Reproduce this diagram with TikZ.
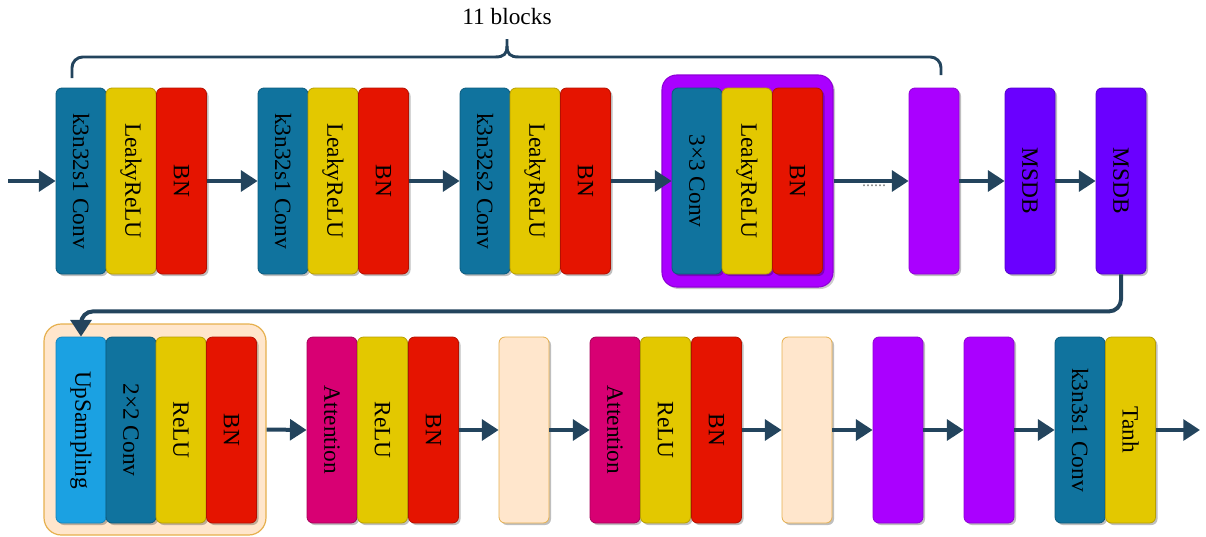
\documentclass[tikz,border=0pt]{standalone}
\usepackage{fontspec}
\setmainfont{Liberation Serif}
\usetikzlibrary{arrows.meta,shadows,calc}
\definecolor{cblue}{HTML}{10739E}
\definecolor{cblueD}{HTML}{0B5A7D}
\definecolor{cyel}{HTML}{E3C800}
\definecolor{cyelD}{HTML}{B89F00}
\definecolor{cred}{HTML}{E51400}
\definecolor{credD}{HTML}{B51000}
\definecolor{cpur}{HTML}{AA00FF}
\definecolor{cpurD}{HTML}{8F00D6}
\definecolor{cviol}{HTML}{6A00FF}
\definecolor{cviolD}{HTML}{5500CC}
\definecolor{cmag}{HTML}{D80073}
\definecolor{cmagD}{HTML}{A50058}
\definecolor{clb}{HTML}{1BA1E2}
\definecolor{clbD}{HTML}{1585BB}
\definecolor{cpeach}{HTML}{FFE6CC}
\definecolor{corange}{HTML}{E6B04E}
\definecolor{carr}{HTML}{23445D}
\tikzset{
  blk/.style={draw, line width=0.6pt, rounded corners=4.5pt, minimum width=37.5pt,
    minimum height=139.5pt, inner sep=0pt, font=\fontsize{17.5}{20}\selectfont,
    drop shadow={shadow xshift=1.5pt, shadow yshift=-1.5pt, opacity=0.25, fill=black}},
  bxblue/.style={blk, fill=cblue, draw=cblueD},
  bxyel/.style={blk, fill=cyel, draw=cyelD},
  bxred/.style={blk, fill=cred, draw=credD},
  bxpur/.style={blk, fill=cpur, draw=cpurD},
  bxviol/.style={blk, fill=cviol, draw=cviolD},
  bxmag/.style={blk, fill=cmag, draw=cmagD},
  bxlb/.style={blk, fill=clb, draw=clbD},
  bxpeach/.style={blk, fill=cpeach, draw=corange},
  arr/.style={draw=carr, line width=3pt, -{Triangle[length=12.5pt,width=15.5pt]}},
  bracket/.style={draw=carr, line width=2.2pt},
  contpur/.style={draw=cpurD, fill=cpur, line width=0.8pt, rounded corners=11pt,
    minimum width=128.25pt, minimum height=159pt, inner sep=0pt,
    drop shadow={shadow xshift=1.5pt, shadow yshift=-1.5pt, opacity=0.2, fill=black}},
  contor/.style={draw=corange, fill=cpeach, line width=0.9pt, rounded corners=13pt,
    minimum width=166.5pt, minimum height=158.25pt, inner sep=0pt},
}
\newcommand{\rt}[1]{\rotatebox{-90}{#1}}
\begin{document}
\begin{tikzpicture}[x=0.75pt,y=-0.75pt]
\useasboundingbox (0,0) rectangle (1206,536);

% title and bracket
\node[font=\fontsize{17.5}{20}\selectfont] (title) at (507,17) {11 blocks};
\coordinate (bL) at (72,78);
\coordinate (bR) at (941,75);
\coordinate (bTop) at (507,39);
\draw[bracket, rounded corners=8pt] (bL) |- (495,57);
\draw[bracket, rounded corners=8pt] (bR) |- (519,57);
\draw[bracket] (495,57) .. controls (504,57) and (507,54) .. (507,46) -- (bTop);
\draw[bracket] (519,57) .. controls (510,57) and (507,54) .. (507,46);

% row 1
\coordinate (in) at (8,181);
\node[bxblue] (b1) at (81,181) {\rt{k3n32s1 Conv}};
\node[bxyel]  (y1) at (131,181) {\rt{LeakyReLU}};
\node[bxred]  (r1) at (181.5,181) {\rt{BN}};

\node[bxblue] (b2) at (283,181) {\rt{k3n32s1 Conv}};
\node[bxyel]  (y2) at (333,181) {\rt{LeakyReLU}};
\node[bxred]  (r2) at (383.5,181) {\rt{BN}};

\node[bxblue] (b3) at (485,181) {\rt{k3n32s2 Conv}};
\node[bxyel]  (y3) at (535,181) {\rt{LeakyReLU}};
\node[bxred]  (r3) at (585.5,181) {\rt{BN}};

\node[contpur] (c1) at (747.5,181) {};
\node[bxblue] (b4) at (697,181) {\rt{3×3 Conv}};
\node[bxyel]  (y4) at (747,181) {\rt{LeakyReLU}};
\node[bxred]  (r4) at (797.5,181) {\rt{BN}};

\node[bxpur]  (p1) at (934,181) {};
\node[bxviol] (m1) at (1030,181) {\rt{MSDB}};
\node[bxviol] (m2) at (1121,181) {\rt{MSDB}};

\draw[arr] (in) -- (b1.west);
\draw[arr] (r1.east) -- (b2.west);
\draw[arr] (r2.east) -- (b3.west);
\draw[arr] (r3.east) -- (b4.west);
\draw[arr] (c1.east) -- (p1.west);
\node[text=gray, font=\fontsize{12}{14}\selectfont, inner sep=0pt] (dots) at (874,186) {......};
\draw[arr] (p1.east) -- (m1.west);
\draw[arr] (m1.east) -- (m2.west);

% row 2
\node[contor] (c2) at (155,429.5) {};
\node[bxlb]   (u1) at (81,430) {\rt{UpSampling}};
\node[bxblue] (v1) at (131,430) {\rt{2×2 Conv}};
\node[bxyel]  (e1) at (181,430) {\rt{ReLU}};
\node[bxred]  (n1) at (231.5,430) {\rt{BN}};

\node[bxmag]  (a1) at (332,430) {\rt{Attention}};
\node[bxyel]  (e2) at (382.5,430) {\rt{ReLU}};
\node[bxred]  (n2) at (433.5,430) {\rt{BN}};

\node[bxpeach] (q1) at (524,430) {};

\node[bxmag]  (a2) at (615,430) {\rt{Attention}};
\node[bxyel]  (e3) at (665.5,430) {\rt{ReLU}};
\node[bxred]  (n3) at (716.5,430) {\rt{BN}};

\node[bxpeach] (q2) at (807,430) {};
\node[bxpur]  (p2) at (898,430) {};
\node[bxpur]  (p3) at (989,430) {};
\node[bxblue] (k1) at (1080,430) {\rt{k3n3s1 Conv}};
\node[bxyel]  (t1) at (1130.5,430) {\rt{Tanh}};
\coordinate (out) at (1200,430);

\draw[arr, rounded corners=9pt] (m2.south) -- ++(0,37) -| (u1.north);
\draw[arr] (c2.east) -- (a1.west);
\draw[arr] (n2.east) -- (q1.west);
\draw[arr] (q1.east) -- (a2.west);
\draw[arr] (n3.east) -- (q2.west);
\draw[arr] (q2.east) -- (p2.west);
\draw[arr] (p2.east) -- (p3.west);
\draw[arr] (p3.east) -- (k1.west);
\draw[arr] (t1.east) -- (out);
\end{tikzpicture}
\end{document}
